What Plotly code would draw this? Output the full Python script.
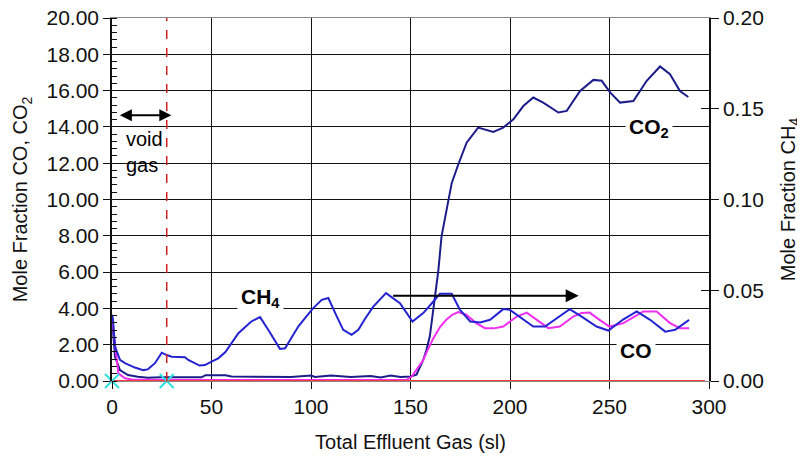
import plotly.graph_objects as go

# ---------------- data ----------------
co2_x = [0, 1.5, 4, 8, 13, 18, 25, 35, 45, 47, 57, 60, 75, 90, 100, 102, 110, 120, 130, 135,
         140, 145, 150, 153, 156.4, 158, 159.7, 161.5, 163.2, 164, 165.6, 168.2, 170.7, 174,
         178.2, 184, 191.6, 196.6, 201.7, 206.7, 211.7, 216.7, 224.3, 228.5, 235.2, 241.9,
         246.1, 250.3, 255.3, 262, 268.7, 275.4, 280.4, 285.4, 289.6]
co2_y = [3.5, 1.34, 0.6, 0.33, 0.24, 0.18, 0.2, 0.2, 0.2, 0.32, 0.32, 0.25, 0.25, 0.22, 0.3,
         0.22, 0.3, 0.22, 0.28, 0.2, 0.3, 0.22, 0.25, 0.35, 1.16, 1.71, 2.45, 3.92, 5.4, 6.1,
         7.97, 9.45, 10.9, 11.93, 13.13, 13.96, 13.72, 13.96, 14.42, 15.15, 15.62, 15.34,
         14.79, 14.88, 15.98, 16.59, 16.54, 15.9, 15.34, 15.43, 16.54, 17.33, 16.9, 15.98, 15.65]

co_x = [0, 1, 3.2, 6.5, 10, 20, 50, 100, 148, 150.6, 153, 156.4, 159, 161.5, 165, 168, 171,
        174, 178, 183, 187.4, 192, 196.6, 200, 203.4, 208.4, 213.4, 219.3, 225, 231.8, 236,
        240, 245, 250, 257, 262, 267, 273.7, 280.4, 285.4, 290]
co_y = [3.5, 2.5, 0.42, 0.15, 0.08, 0.05, 0.05, 0.05, 0.05, 0.24, 0.6, 1.16, 1.8, 2.36, 3.0,
        3.37, 3.65, 3.8, 3.65, 3.19, 2.91, 2.9, 3.0, 3.3, 3.55, 3.77, 3.37, 2.91, 3.0, 3.55,
        3.75, 3.77, 3.37, 3.0, 3.19, 3.5, 3.83, 3.83, 3.19, 2.91, 2.91]

ch4_x = [0, 0.5, 1.5, 4, 6.5, 11.5, 15.7, 18, 21.6, 25, 27.5, 30, 36.7, 38.3, 44, 46.7, 50,
         53.4, 57, 60, 63.5, 70, 74.4, 78.5, 84.4, 87, 93.6, 97, 101, 105.4, 108.7, 113,
         116.2, 120.4, 123.8, 127, 131.3, 137.7, 144.7, 151, 156.4, 161.5, 164.8, 170.7,
         174.9, 180, 185, 190, 196.6, 200, 205.9, 211.7, 217.6, 223.5, 230, 236, 243.5,
         249.4, 257, 263.7, 270.4, 278, 283, 290]
ch4_y = [0.0365, 0.034, 0.019, 0.0116, 0.0098, 0.0074, 0.006, 0.0064, 0.0098, 0.0156,
         0.0143, 0.0134, 0.0131, 0.0116, 0.0085, 0.0088, 0.0107, 0.0125, 0.016, 0.0208,
         0.0263, 0.0328, 0.0352, 0.0282, 0.0177, 0.018, 0.030, 0.0346, 0.040, 0.0447,
         0.0457, 0.0355, 0.0282, 0.0254, 0.0282, 0.034, 0.041, 0.0484, 0.0429, 0.0328,
         0.0374, 0.0438, 0.0481, 0.0481, 0.0392, 0.0328, 0.0322, 0.0337, 0.0396, 0.0392,
         0.0346, 0.030, 0.030, 0.0346, 0.0396, 0.0355, 0.030, 0.0278, 0.034, 0.0383,
         0.0337, 0.0272, 0.0282, 0.0337]

base_x = [0, 298]
base_y = [0, 0]

void_end = 27.5
marker_x = [0, void_end]
marker_y = [0, 0]

x_ticks = [0, 50, 100, 150, 200, 250, 300]

FONT = "Liberation Sans, Arial, sans-serif"

fig = go.Figure()

fig.add_trace(go.Scatter(x=co2_x, y=co2_y, mode="lines", name="CO2",
                         line=dict(color="#1c1c8a", width=2)))
fig.add_trace(go.Scatter(x=ch4_x, y=ch4_y, mode="lines", name="CH4", yaxis="y2",
                         line=dict(color="#2323d2", width=2)))
fig.add_trace(go.Scatter(x=co_x, y=co_y, mode="lines", name="CO",
                         line=dict(color="#f02ef0", width=2)))
fig.add_trace(go.Scatter(x=base_x, y=base_y, mode="lines", name="base",
                         line=dict(color="#ff3a3a", width=2)))
fig.add_trace(go.Scatter(x=marker_x, y=marker_y, mode="markers", name="pts",
                         marker=dict(symbol="x-thin", size=14, line=dict(color="#2ee0e0", width=2)),
                         cliponaxis=False))

# dashed void-gas boundary
fig.add_shape(type="line", xref="x", yref="paper", x0=void_end, x1=void_end, y0=0, y1=1,
              line=dict(color="#d02020", width=1.5, dash="dash"))

ann_font = dict(family=FONT, size=20, color="black")
# void gas double arrow
fig.add_annotation(x=29.8, y=14.64, ax=3.2, ay=14.64, xref="x", yref="y", axref="x", ayref="y",
                   text="", showarrow=True, arrowhead=2, arrowside="end+start",
                   arrowsize=1.2, arrowwidth=2, arrowcolor="black")
fig.add_annotation(x=6.2, y=12.6, xref="x", yref="y", text="void<br>gas", showarrow=False,
                   xanchor="left", align="left", font=ann_font)
# CH4 arrow
fig.add_annotation(x=234.5, y=4.7, ax=140.5, ay=4.7, xref="x", yref="y", axref="x", ayref="y",
                   text="", showarrow=True, arrowhead=2, arrowsize=1.3, arrowwidth=2,
                   arrowcolor="black")
# labels
lbl = dict(family=FONT, size=21, color="black", weight="bold")
fig.add_annotation(x=74.5, y=4.55, xref="x", yref="y", text="CH<sub>4</sub>", showarrow=False,
                   font=lbl, bgcolor="white", borderpad=3)
fig.add_annotation(x=270, y=13.95, xref="x", yref="y", text="CO<sub>2</sub>", showarrow=False,
                   font=lbl, bgcolor="white", borderpad=3)
fig.add_annotation(x=263.5, y=1.7, xref="x", yref="y", text="CO", showarrow=False,
                   font=lbl, bgcolor="white", borderpad=3)

tick_font = dict(family=FONT, size=21, color="#111")
title_font = dict(family=FONT, size=20, color="#111")

fig.update_layout(
    width=805, height=460,
    margin=dict(l=104, r=104, t=10, b=87),
    paper_bgcolor="white", plot_bgcolor="white",
    showlegend=False,
    font=dict(family=FONT, size=20, color="#111"),
    xaxis=dict(range=[0, 300], tickvals=x_ticks, ticks="outside", ticklen=7,
               tickcolor="#111", showgrid=True, gridcolor="#111", gridwidth=1,
               showline=True, linecolor="#888", linewidth=1, mirror=True, zeroline=False,
               tickfont=tick_font, automargin=False, ticklabeloverflow="allow",
               title=dict(text="Total Effluent Gas (sl)", font=title_font, standoff=17)),
    yaxis=dict(range=[0, 20], dtick=2, tickformat=".2f", ticks="outside", ticklen=7,
               tickcolor="#111", showgrid=True, gridcolor="#111", gridwidth=1,
               showline=True, linecolor="#111", linewidth=1.5, zeroline=False,
               minor=dict(dtick=0.4, ticks="inside", ticklen=5, tickcolor="#111", showgrid=False),
               tickfont=tick_font, automargin=False, ticklabeloverflow="allow",
               title=dict(text="Mole Fraction CO, CO<sub>2</sub>", font=title_font, standoff=13)),
    yaxis2=dict(range=[0, 0.2], dtick=0.05, tickformat=".2f", overlaying="y", side="right",
                ticks="outside", ticklen=8, tickcolor="#111", showgrid=False,
                showline=True, linecolor="#111", linewidth=1.5, zeroline=False,
                tickfont=tick_font, automargin=False, ticklabeloverflow="allow",
                title=dict(text="Mole Fraction CH<sub>4</sub>", font=title_font, standoff=18)),
    yaxis3=dict(range=[0, 0.2], dtick=0.05, overlaying="y", side="right",
                ticks="inside", ticklen=8, tickcolor="#111", showgrid=False, automargin=False,
                showticklabels=False, showline=False, zeroline=False),
)

# dummy trace to activate yaxis3
fig.add_trace(go.Scatter(x=[None], y=[None], yaxis="y3", showlegend=False, hoverinfo="skip"))

fig.write_html("out.html")
